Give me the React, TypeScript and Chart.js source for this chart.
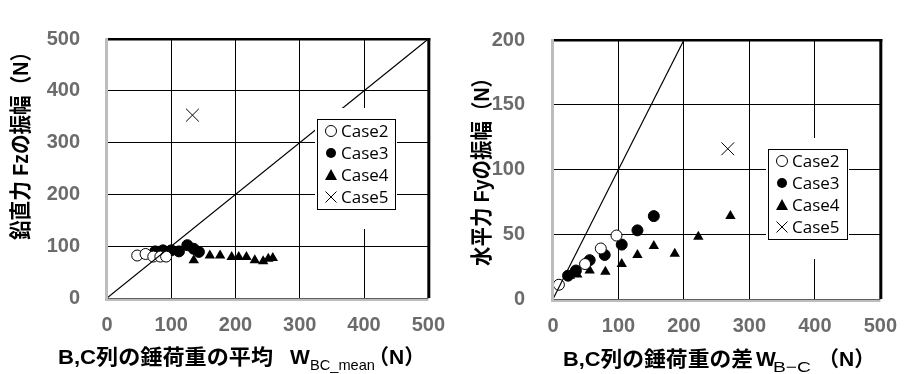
import React, { useEffect, useRef } from 'react';
import { Chart, registerables } from 'chart.js';

Chart.register(...registerables);

// ---------- data ----------
// Left chart: x = W_BC_mean (N), y = Fz amplitude (N)
const leftCase2X = [47, 60, 72, 83, 92];
const leftCase2Y = [82, 85, 80, 80, 80];
const leftCase3X = [75, 87, 100, 112, 125, 135, 143];
const leftCase3Y = [90, 92, 92, 90, 102, 95, 89];
const leftCase4X = [135, 160, 176, 194, 205, 217, 230, 243, 251, 258];
const leftCase4Y = [73, 82, 82, 79, 79, 79, 73, 71, 76, 77];
const leftCase5X = [133];
const leftCase5Y = [353];
const leftRefX = [0, 500];
const leftRefY = [0, 500];

// Right chart: x = W_B-C (N), y = Fy amplitude (N)
const rightCase2X = [9, 49, 73, 97];
const rightCase2Y = [11, 27, 39, 49];
const rightCase3X = [23, 35, 56, 79, 105, 129, 154];
const rightCase3Y = [18, 22, 30, 34, 42, 53, 64];
const rightCase4X = [26, 37, 56, 80, 105, 129, 154, 186, 222, 271];
const rightCase4Y = [18, 19, 22, 21, 27, 34, 41, 35, 48, 64];
const rightCase5X = [267];
const rightCase5Y = [116];
const rightRefX = [0, 200];
const rightRefY = [0, 200];

const xTicks = [0, 100, 200, 300, 400, 500];
const leftYTicks = [0, 100, 200, 300, 400, 500];
const rightYTicks = [0, 50, 100, 150, 200];
const legendLabels = ['Case2', 'Case3', 'Case4', 'Case5'];

// ---------- styling ----------
const SANS = "'Liberation Sans', 'Noto Sans CJK JP', sans-serif";
const TICK_COLOR = '#6b6b6b';

type Seg = { text: string; x: number; y: number; size: number; bold: boolean; width?: number };
type DecorCfg = {
  xTitle: Seg[];
  yTitle: { text: string; cx: number; cy: number; size: number; length: number };
  legend: { left: number; top: number; width: number; height: number };
};

function drawSeg(ctx: CanvasRenderingContext2D, s: Seg) {
  ctx.save();
  ctx.font = `${s.bold ? 'bold ' : ''}${s.size}px ${SANS}`;
  ctx.fillStyle = '#000';
  ctx.textAlign = 'left';
  ctx.textBaseline = 'alphabetic';
  const w = ctx.measureText(s.text).width;
  const k = s.width ? s.width / w : 1;
  ctx.translate(s.x, s.y);
  ctx.scale(k, 1);
  ctx.fillText(s.text, 0, 0);
  ctx.restore();
}

function drawSymbol(ctx: CanvasRenderingContext2D, kind: number, x: number, y: number) {
  ctx.save();
  ctx.strokeStyle = '#000';
  ctx.fillStyle = '#000';
  ctx.lineWidth = 1;
  if (kind === 0) {
    ctx.beginPath();
    ctx.arc(x, y, 5.5, 0, Math.PI * 2);
    ctx.fillStyle = '#fff';
    ctx.fill();
    ctx.stroke();
  } else if (kind === 1) {
    ctx.beginPath();
    ctx.arc(x, y, 5, 0, Math.PI * 2);
    ctx.fill();
  } else if (kind === 2) {
    ctx.beginPath();
    ctx.moveTo(x, y - 6);
    ctx.lineTo(x + 6, y + 5);
    ctx.lineTo(x - 6, y + 5);
    ctx.closePath();
    ctx.fill();
  } else {
    ctx.beginPath();
    ctx.moveTo(x - 5.5, y - 5.5);
    ctx.lineTo(x + 5.5, y + 5.5);
    ctx.moveTo(x + 5.5, y - 5.5);
    ctx.lineTo(x - 5.5, y + 5.5);
    ctx.stroke();
  }
  ctx.restore();
}

function makeDecor(cfg: DecorCfg) {
  return {
    id: 'decor',
    afterDraw(chart: any) {
      const ctx: CanvasRenderingContext2D = chart.ctx;
      const { left, right, top, bottom } = chart.chartArea;
      ctx.save();
      // frame
      ctx.fillStyle = '#000';
      ctx.fillRect(left, top - 1, right - left + 2, 2.5);
      ctx.fillRect(right - 1, top - 1, 3, bottom - top + 1);
      ctx.fillStyle = '#bdbdbd';
      ctx.fillRect(left - 2, top - 1, 3, bottom - top + 4);
      ctx.fillRect(left - 2, bottom + 0.5, right - left + 2, 2.5);
      // legend
      const L = cfg.legend;
      ctx.fillStyle = '#fff';
      ctx.fillRect(L.left - 2, L.top - 11, L.width + 4, L.height + 31);
      ctx.strokeStyle = '#000';
      ctx.lineWidth = 1;
      ctx.strokeRect(L.left + 0.5, L.top + 0.5, L.width, L.height);
      const rowH = (L.height - 2) / 4;
      legendLabels.forEach((lab, i) => {
        const cy = L.top + 1 + rowH * (i + 0.5);
        drawSymbol(ctx, i, L.left + 14, cy);
        ctx.font = `17px 'Open Sans', 'Noto Sans', sans-serif`;
        ctx.fillStyle = '#000';
        ctx.textBaseline = 'middle';
        ctx.textAlign = 'left';
        ctx.fillText(lab, L.left + 24, cy + 1);
      });
      // x title
      cfg.xTitle.forEach((s) => drawSeg(ctx, s));
      // y title (rotated)
      const Y = cfg.yTitle;
      ctx.save();
      ctx.translate(Y.cx, Y.cy);
      ctx.rotate(-Math.PI / 2);
      ctx.font = `bold ${Y.size}px ${SANS}`;
      ctx.fillStyle = '#000';
      ctx.textAlign = 'center';
      ctx.textBaseline = 'middle';
      const w = ctx.measureText(Y.text).width;
      ctx.scale(Y.length / w, 1);
      ctx.fillText(Y.text, 0, 0);
      ctx.restore();
      ctx.restore();
    },
  };
}

function pts(xs: number[], ys: number[]) {
  return xs.map((x, i) => ({ x, y: ys[i] }));
}

type ChartCfg = {
  c2: [number[], number[]];
  c3: [number[], number[]];
  c4: [number[], number[]];
  c5: [number[], number[]];
  ref: [number[], number[]];
  yTicks: number[];
  yMax: number;
  padRight: number;
  padTop: number;
  yWidth: number;
  xHeight: number;
  yPad: number;
  decor: DecorCfg;
};

function buildChart(canvas: HTMLCanvasElement, cfg: ChartCfg) {
  const tickFont = { family: "'Liberation Sans', Arial, sans-serif", size: 20, weight: 'bold' as const };
  return new Chart(canvas, {
    type: 'scatter',
    data: {
      datasets: [
        {
          label: 'ref',
          data: pts(cfg.ref[0], cfg.ref[1]),
          showLine: true,
          borderColor: '#000',
          borderWidth: 1.2,
          pointRadius: 0,
        } as any,
        {
          label: legendLabels[0],
          data: pts(cfg.c2[0], cfg.c2[1]),
          pointStyle: 'circle',
          pointRadius: 5.5,
          backgroundColor: '#fff',
          borderColor: '#000',
          borderWidth: 1,
        },
        {
          label: legendLabels[1],
          data: pts(cfg.c3[0], cfg.c3[1]),
          pointStyle: 'circle',
          pointRadius: 5.5,
          backgroundColor: '#000',
          borderColor: '#000',
          borderWidth: 1,
        },
        {
          label: legendLabels[2],
          data: pts(cfg.c4[0], cfg.c4[1]),
          pointStyle: 'triangle',
          pointRadius: 6,
          backgroundColor: '#000',
          borderColor: '#000',
          borderWidth: 0,
        },
        {
          label: legendLabels[3],
          data: pts(cfg.c5[0], cfg.c5[1]),
          pointStyle: 'crossRot',
          pointRadius: 9,
          backgroundColor: '#000',
          borderColor: '#000',
          borderWidth: 1,
        },
      ],
    },
    options: {
      animation: false,
      responsive: false,
      maintainAspectRatio: false,
      layout: { padding: { left: 0, right: cfg.padRight, top: cfg.padTop, bottom: 0 } },
      plugins: { legend: { display: false }, tooltip: { enabled: false } },
      scales: {
        x: {
          type: 'linear',
          min: 0,
          max: 500,
          afterBuildTicks: (axis: any) => {
            axis.ticks = xTicks.map((v) => ({ value: v }));
          },
          afterFit: (axis: any) => {
            axis.height = cfg.xHeight;
          },
          ticks: { font: tickFont, color: TICK_COLOR, padding: 15, maxRotation: 0 },
          grid: { color: '#000', lineWidth: 1, drawTicks: false },
          border: { display: false },
        },
        y: {
          type: 'linear',
          min: 0,
          max: cfg.yMax,
          afterBuildTicks: (axis: any) => {
            axis.ticks = cfg.yTicks.map((v) => ({ value: v }));
          },
          afterFit: (axis: any) => {
            axis.width = cfg.yWidth;
          },
          ticks: { font: tickFont, color: TICK_COLOR, padding: cfg.yPad },
          grid: { color: '#000', lineWidth: 1, drawTicks: false },
          border: { display: false },
        },
      },
    },
    plugins: [makeDecor(cfg.decor)],
  });
}

const leftCfg: ChartCfg = {
  c2: [leftCase2X, leftCase2Y],
  c3: [leftCase3X, leftCase3Y],
  c4: [leftCase4X, leftCase4Y],
  c5: [leftCase5X, leftCase5Y],
  ref: [leftRefX, leftRefY],
  yTicks: leftYTicks,
  yMax: 500,
  padRight: 28,
  padTop: 19,
  yWidth: 107,
  xHeight: 76,
  yPad: 27,
  decor: {
    xTitle: [
      { text: 'B,C列の錘荷重の平均', x: 58, y: 364, size: 21, bold: true, width: 215 },
      { text: 'W', x: 290, y: 364, size: 21, bold: true },
      { text: 'BC_mean', x: 310, y: 370, size: 15, bold: false, width: 65 },
      { text: '（N）', x: 368, y: 364, size: 21, bold: true },
    ],
    yTitle: { text: '鉛直力 Fzの振幅（N）', cx: 22, cy: 141, size: 22, length: 198 },
    legend: { left: 317, top: 119, width: 78, height: 90 },
  },
};

const rightCfg: ChartCfg = {
  c2: [rightCase2X, rightCase2Y],
  c3: [rightCase3X, rightCase3Y],
  c4: [rightCase4X, rightCase4Y],
  c5: [rightCase5X, rightCase5Y],
  ref: [rightRefX, rightRefY],
  yTicks: rightYTicks,
  yMax: 200,
  padRight: 20,
  padTop: 15,
  yWidth: 93,
  xHeight: 75,
  yPad: 28,
  decor: {
    xTitle: [
      { text: 'B,C列の錘荷重の差', x: 103, y: 366, size: 21, bold: true, width: 190 },
      { text: 'W', x: 296, y: 366, size: 21, bold: true },
      { text: 'B−C', x: 313, y: 372, size: 15, bold: false, width: 38 },
      { text: '（N）', x: 358, y: 366, size: 21, bold: true },
    ],
    yTitle: { text: '水平力 Fyの振幅（N）', cx: 23, cy: 167, size: 22, length: 198 },
    legend: { left: 308, top: 149, width: 79, height: 90 },
  },
};

export default function App() {
  const leftRef = useRef<HTMLCanvasElement>(null);
  const rightRef = useRef<HTMLCanvasElement>(null);

  useEffect(() => {
    const charts: Chart[] = [];
    if (leftRef.current) charts.push(buildChart(leftRef.current, leftCfg));
    if (rightRef.current) charts.push(buildChart(rightRef.current, rightCfg));
    return () => charts.forEach((c) => c.destroy());
  }, []);

  return (
    <div
      style={{
        position: 'absolute',
        left: 0,
        top: 0,
        width: 912,
        height: 374,
        background: '#fff',
        overflow: 'hidden',
      }}
    >
      <canvas
        ref={leftRef}
        width={460}
        height={374}
        style={{ position: 'absolute', left: 0, top: 0, width: 460, height: 374 }}
      />
      <canvas
        ref={rightRef}
        width={452}
        height={374}
        style={{ position: 'absolute', left: 460, top: 0, width: 452, height: 374 }}
      />
    </div>
  );
}
